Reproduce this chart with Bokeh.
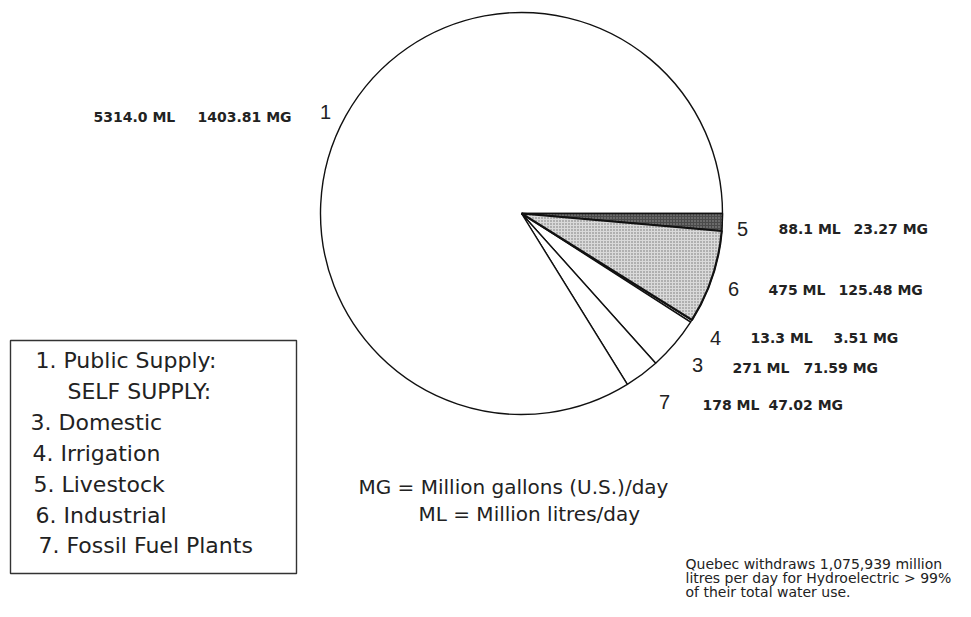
import numpy as np
from bokeh.plotting import figure
from bokeh.models import ColumnDataSource
from bokeh.core.properties import value
from bokeh.embed import file_html
from bokeh.resources import INLINE

# ---------------- data ----------------
numbers = ["1", "3", "4", "5", "6", "7"]
categories = ["Public Supply", "Domestic", "Irrigation", "Livestock", "Industrial", "Fossil Fuel Plants"]
ml_values = [5314.0, 271.0, 13.3, 88.1, 475.0, 178.0]
ml_labels = ["5314.0 ML", "271 ML", "13.3 ML", "88.1 ML", "475 ML", "178 ML"]
mg_labels = ["1403.81 MG", "71.59 MG", "3.51 MG", "23.27 MG", "125.48 MG", "47.02 MG"]
pie_order = ["5", "6", "4", "3", "7", "1"]  # clockwise from 3 o'clock
legend_lines = ["1. Public Supply:", "SELF SUPPLY:", "3. Domestic", "4. Irrigation",
                "5. Livestock", "6. Industrial", "7. Fossil Fuel Plants"]
units_lines = ["MG = Million gallons (U.S.)/day", "ML = Million litres/day"]
note_lines = ["Quebec withdraws 1,075,939 million",
              "litres per day for Hydroelectric > 99%",
              "of their total water use."]

# ---------------- layout (picture pixels, y down) ----------------
W, H = 955, 601
def X(sx): return sx
def Y(sy): return H - sy

CX, CY, R = 521, 213, 201
fills = {"1": "white", "3": "white", "4": "white", "7": "white", "5": "#4a4a4a", "6": "#dadada"}
num_pos = {"1": (325, 111), "5": (742, 228), "6": (733, 288), "4": (715, 337), "3": (697, 364), "7": (664, 401)}
ml_pos = {"1": (93, 116), "5": (778, 228), "6": (768, 289), "4": (750, 337), "3": (732, 367), "7": (702, 404)}
mg_x = {"1": 197, "5": 853, "6": 838, "4": 833, "3": 803, "7": 768}

p = figure(width=W, height=H, x_range=(0, W), y_range=(0, H),
           output_backend="svg", toolbar_location=None, min_border=0)
p.axis.visible = False
p.grid.visible = False
p.outline_line_color = None
p.background_fill_color = "white"

# ---------------- pie ----------------
idx = [numbers.index(n) for n in pie_order]
vals = np.array([ml_values[i] for i in idx])
ang = vals / vals.sum() * 2 * np.pi
cum = np.concatenate([[0], np.cumsum(ang)])
src = ColumnDataSource(dict(
    start=-cum[1:], end=-cum[:-1],
    fill=[fills[n] for n in pie_order],
    name=[categories[i] for i in idx],
))
p.wedge(x=X(CX), y=Y(CY), radius=R, start_angle="start", end_angle="end",
        fill_color="fill", line_color="#111111", line_width=1.4, source=src)
# stipple textures
dark = pie_order.index("5")
light = pie_order.index("6")
p.wedge(x=X(CX), y=Y(CY), radius=R, start_angle=-cum[dark + 1], end_angle=-cum[dark],
        fill_color=fills["5"], hatch_pattern="dot", hatch_color="#9a9a9a", hatch_scale=3,
        line_color="#111111", line_width=1.4)
p.wedge(x=X(CX), y=Y(CY), radius=R, start_angle=-cum[light + 1], end_angle=-cum[light],
        fill_color=fills["6"], hatch_pattern="dot", hatch_color="#707070", hatch_scale=3,
        line_color="#111111", line_width=2.2)

# ---------------- labels ----------------
lab_n = [n for n in pie_order]
p.text(x=[X(num_pos[n][0]) for n in lab_n], y=[Y(num_pos[n][1]) for n in lab_n], text=lab_n,
       text_font=value("Liberation Sans"), text_font_size="20px", text_color="#222222",
       text_align="center", text_baseline="middle")
p.text(x=[X(ml_pos[n][0]) for n in lab_n], y=[Y(ml_pos[n][1]) for n in lab_n],
       text=[ml_labels[numbers.index(n)] for n in lab_n],
       text_font=value("DejaVu Sans"), text_font_style="bold", text_font_size="14px",
       text_color="#222222", text_align="left", text_baseline="middle")
p.text(x=[X(mg_x[n]) for n in lab_n], y=[Y(ml_pos[n][1]) for n in lab_n],
       text=[mg_labels[numbers.index(n)] for n in lab_n],
       text_font=value("DejaVu Sans"), text_font_style="bold", text_font_size="14px",
       text_color="#222222", text_align="left", text_baseline="middle")

# ---------------- legend box ----------------
p.quad(left=X(10), right=X(296), top=Y(340), bottom=Y(573),
       fill_color="white", line_color="#333333", line_width=1.4)
leg_x = [35, 67, 30, 32, 33, 35, 38]
leg_y = [360, 391, 422, 453, 484, 515, 545]
p.text(x=[X(v) for v in leg_x], y=[Y(v) for v in leg_y], text=legend_lines,
       text_font=value("DejaVu Sans"), text_font_size="22px", text_color="#222222",
       text_align="left", text_baseline="middle")

# ---------------- units ----------------
p.text(x=[X(358), X(418)], y=[Y(486), Y(513)], text=units_lines,
       text_font=value("DejaVu Sans"), text_font_size="20px", text_color="#222222",
       text_align="left", text_baseline="middle")

# ---------------- note ----------------
p.text(x=[X(685)] * 3, y=[Y(563), Y(577), Y(591)], text=note_lines,
       text_font=value("DejaVu Sans"), text_font_size="14px", text_color="#222222",
       text_align="left", text_baseline="middle")

open("out.html", "w").write(file_html(p, INLINE))
